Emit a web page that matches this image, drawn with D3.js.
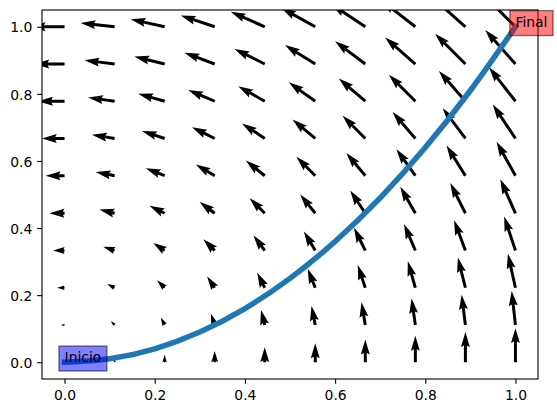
<!DOCTYPE html>
<html>
<head>
<meta charset="utf-8">
<script src="https://cdn.jsdelivr.net/npm/d3@7"></script>
<style>
  body { margin: 0; background: #fff; }
  svg { display: block; }
  text { font-family: "DejaVu Sans", sans-serif; }
</style>
</head>
<body>
<div class="svg-container"></div>
<script>
// grid where the arrows start
const gridX = [0, 0.111, 0.222, 0.333, 0.444, 0.556, 0.667, 0.778, 0.889, 1.0]
const gridY = [0, 0.111, 0.222, 0.333, 0.444, 0.556, 0.667, 0.778, 0.889, 1.0]

// arrow components, one row per gridY value
const U = [
  [0, 0, 0, 0, 0, 0, 0, 0, 0, 0],
  [-0.111, -0.111, -0.111, -0.111, -0.111, -0.111, -0.111, -0.111, -0.111, -0.111],
  [-0.222, -0.222, -0.222, -0.222, -0.222, -0.222, -0.222, -0.222, -0.222, -0.222],
  [-0.333, -0.333, -0.333, -0.333, -0.333, -0.333, -0.333, -0.333, -0.333, -0.333],
  [-0.444, -0.444, -0.444, -0.444, -0.444, -0.444, -0.444, -0.444, -0.444, -0.444],
  [-0.556, -0.556, -0.556, -0.556, -0.556, -0.556, -0.556, -0.556, -0.556, -0.556],
  [-0.667, -0.667, -0.667, -0.667, -0.667, -0.667, -0.667, -0.667, -0.667, -0.667],
  [-0.778, -0.778, -0.778, -0.778, -0.778, -0.778, -0.778, -0.778, -0.778, -0.778],
  [-0.889, -0.889, -0.889, -0.889, -0.889, -0.889, -0.889, -0.889, -0.889, -0.889],
  [-1.0, -1.0, -1.0, -1.0, -1.0, -1.0, -1.0, -1.0, -1.0, -1.0]
]
const V = [
  [0, 0.111, 0.222, 0.333, 0.444, 0.556, 0.667, 0.778, 0.889, 1.0],
  [0, 0.111, 0.222, 0.333, 0.444, 0.556, 0.667, 0.778, 0.889, 1.0],
  [0, 0.111, 0.222, 0.333, 0.444, 0.556, 0.667, 0.778, 0.889, 1.0],
  [0, 0.111, 0.222, 0.333, 0.444, 0.556, 0.667, 0.778, 0.889, 1.0],
  [0, 0.111, 0.222, 0.333, 0.444, 0.556, 0.667, 0.778, 0.889, 1.0],
  [0, 0.111, 0.222, 0.333, 0.444, 0.556, 0.667, 0.778, 0.889, 1.0],
  [0, 0.111, 0.222, 0.333, 0.444, 0.556, 0.667, 0.778, 0.889, 1.0],
  [0, 0.111, 0.222, 0.333, 0.444, 0.556, 0.667, 0.778, 0.889, 1.0],
  [0, 0.111, 0.222, 0.333, 0.444, 0.556, 0.667, 0.778, 0.889, 1.0],
  [0, 0.111, 0.222, 0.333, 0.444, 0.556, 0.667, 0.778, 0.889, 1.0]
]

// the path (blue curve)
const pathX = [0, 0.1, 0.2, 0.3, 0.4, 0.5, 0.6, 0.7, 0.8, 0.9, 1.0]
const pathY = [0, 0.01, 0.04, 0.09, 0.16, 0.25, 0.36, 0.49, 0.64, 0.81, 1.0]

// text labels
const labelNames = ['Inicio', 'Final']
const labelX = [0, 1]
const labelY = [0, 1]
const labelColors = ['blue', 'red']

const xTicks = [0, 0.2, 0.4, 0.6, 0.8, 1.0]
const yTicks = [0, 0.2, 0.4, 0.6, 0.8, 1.0]

const W = 557, H = 413
const margin = { top: 10, right: 19, bottom: 34, left: 42 }
const graphWidth = W - margin.left - margin.right
const graphHeight = H - margin.top - margin.bottom
const fontPx = 13.9

const svg = d3.select('.svg-container').append('svg')
  .attr('width', W)
  .attr('height', H)

svg.append('rect').attr('width', W).attr('height', H).attr('fill', '#fff')

const graph = svg.append('g')
  .attr('transform', `translate(${margin.left},${margin.top})`)

svg.append('defs').append('clipPath').attr('id', 'clip')
  .append('rect').attr('width', graphWidth).attr('height', graphHeight)

const x = d3.scaleLinear().domain([-0.05, 1.05]).range([0, graphWidth])
const y = d3.scaleLinear().domain([-0.05, 1.05]).range([graphHeight, 0])

// arrow length in px per unit of magnitude, shaft width in px
const lenScale = d3.scaleLinear().domain([0, 1]).range([0, 34])
const shaft = 0.006 * graphWidth

// arrow polygon like matplotlib quiver (units = shaft widths)
function arrowPoints(px, py, u, v) {
  const L = lenScale(Math.hypot(u, v)) / shaft
  const minsh = 5
  let X, Y
  if (L < 1) {
    X = d3.range(8).map(k => Math.cos(k * Math.PI / 3) * 0.5)
    Y = d3.range(8).map(k => Math.sin(k * Math.PI / 3) * 0.5)
  } else if (L < minsh) {
    const s = L / minsh
    X = [0, 0.5, 0, 5, 0, 0.5, 0, 0].map(d => d * s)
    Y = [0.5, 0.5, 1.5, 0, -1.5, -0.5, -0.5, 0.5].map(d => d * s)
  } else {
    X = [0, L - 4.5, L - 5, L, L - 5, L - 4.5, 0, 0]
    Y = [0.5, 0.5, 1.5, 0, -1.5, -0.5, -0.5, 0.5]
  }
  const th = Math.atan2(v, u)
  const c = Math.cos(th), s = Math.sin(th)
  return X.map((xx, i) => {
    const rx = (xx * c - Y[i] * s) * shaft
    const ry = (xx * s + Y[i] * c) * shaft
    return [px + rx, py - ry]
  })
}

const arrows = []
gridY.forEach((gy, j) => {
  gridX.forEach((gx, i) => {
    arrows.push({ x: gx, y: gy, u: U[j][i], v: V[j][i] })
  })
})

const plotArea = graph.append('g').attr('clip-path', 'url(#clip)')

plotArea.selectAll('polygon')
  .data(arrows)
  .enter()
  .append('polygon')
  .attr('points', d => arrowPoints(x(d.x), y(d.y), d.u, d.v).map(p => p.join(',')).join(' '))
  .attr('fill', '#000')

const line = d3.line()
  .x(d => x(d[0]))
  .y(d => y(d[1]))
  .curve(d3.curveMonotoneX)

plotArea.append('path')
  .datum(pathX.map((d, i) => [d, pathY[i]]))
  .attr('d', line)
  .attr('fill', 'none')
  .attr('stroke', '#1f77b4')
  .attr('stroke-width', 5.56)
  .attr('stroke-linecap', 'square')
  .attr('stroke-linejoin', 'round')

// axes
const groupX = graph.append('g').attr('transform', `translate(0,${graphHeight})`)
const groupY = graph.append('g')

groupX.call(d3.axisBottom(x).tickValues(xTicks).tickFormat(d3.format('.1f')).tickSize(4.86))
groupY.call(d3.axisLeft(y).tickValues(yTicks).tickFormat(d3.format('.1f')).tickSize(4.86).tickPadding(4.86))

graph.selectAll('.domain').remove()
graph.selectAll('.tick line').attr('stroke', '#000').attr('stroke-width', 1.1)
graph.selectAll('.tick text').attr('fill', '#000').style('font-size', fontPx + 'px')
  .style('font-family', '"DejaVu Sans", sans-serif')
groupX.selectAll('.tick text').attr('y', 21).attr('dy', null)
groupY.selectAll('.tick text').attr('dy', '0.37em')

graph.append('rect')
  .attr('width', graphWidth)
  .attr('height', graphHeight)
  .attr('fill', 'none')
  .attr('stroke', '#000')
  .attr('stroke-width', 1.1)

// labels with boxes
const pad = 5.56
labelNames.forEach((name, i) => {
  const g = graph.append('g')
  const rect = g.append('rect')
  const t = g.append('text')
    .attr('x', x(labelX[i]))
    .attr('y', y(labelY[i]))
    .style('font-size', fontPx + 'px')
    .attr('fill', '#000')
    .text(name)
  const tw = t.node().getComputedTextLength()
  rect.attr('x', x(labelX[i]) - pad)
    .attr('y', y(labelY[i]) - 10.6 - pad)
    .attr('width', tw + 2 * pad)
    .attr('height', 10.6 + 3.2 + 2 * pad)
    .attr('fill', labelColors[i])
    .attr('fill-opacity', 0.5)
    .attr('stroke', '#000')
    .attr('stroke-opacity', 0.5)
    .attr('stroke-width', 1.39)
})
</script>
</body>
</html>
